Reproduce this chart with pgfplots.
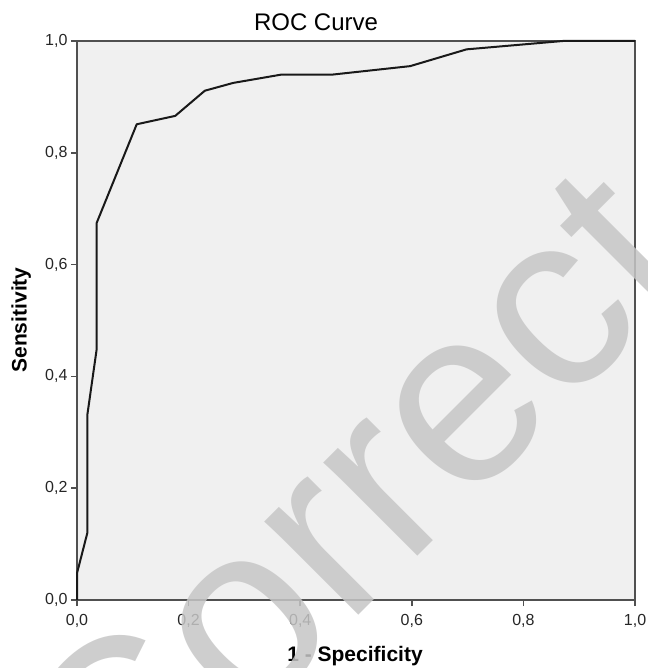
\documentclass[border=0pt]{standalone}
\usepackage{fontspec}
\setmainfont{Liberation Sans}
\usepackage{pgfplots}
\pgfplotsset{compat=1.18}
\definecolor{bg}{HTML}{F0F0F0}
\definecolor{frame}{HTML}{505050}
\definecolor{wm}{HTML}{C6C6C6}
\begin{document}
\begin{tikzpicture}[x=0.75pt,y=0.75pt]
\begin{axis}[
  scale only axis,
  width=418.5pt, height=419.25pt,
  xmin=0, xmax=1, ymin=0, ymax=1,
  xtick={0,0.2,...,1.0}, ytick={0,0.2,...,1.0},
  xtick pos=bottom, ytick pos=left,
  tick align=outside,
  major tick length=4.5pt,
  axis background/.style={fill=bg},
  axis line style={draw=frame, line width=1.4pt},
  major tick style={draw=frame, line width=1.3pt},
  /pgf/number format/.cd, use comma, fixed, fixed zerofill, precision=1,
    assume math mode=true,
  /pgfplots/.cd,
  tick label style={font=\fontsize{12}{14}\selectfont, text=black!85},
  xticklabel style={inner sep=0pt, anchor=north, yshift=-6pt},
  yticklabel style={inner sep=0pt, anchor=east, xshift=-2.5pt},
  clip=false,
]
% ROC curve
\addplot[black!90, line width=1.5pt, line join=round] coordinates {
  (0,0) (0,0.048) (0.0185,0.12) (0.0185,0.331) (0.035,0.447) (0.035,0.674)
  (0.107,0.851) (0.176,0.866) (0.229,0.911) (0.28,0.925) (0.367,0.940)
  (0.459,0.940) (0.597,0.955) (0.698,0.985) (0.871,1.0) (1,1)
};
\node[anchor=center, font=\fontsize{18}{20}\selectfont] at (rel axis cs:0.4283,1.034) {ROC Curve};
\node[anchor=base, font=\bfseries\fontsize{15.75}{18}\selectfont] at (rel axis cs:0.4982,-0.1104) {1 - Specificity};
\node[anchor=base, rotate=90, font=\bfseries\fontsize{15.75}{18}\selectfont] at (rel axis cs:-0.0901,0.5009) {Sensitivity};
\coordinate (bbsw) at (rel axis cs:-0.138,-0.1216);
\coordinate (bbne) at (rel axis cs:1.0215,1.0733);
\coordinate (wmpos) at (rel axis cs:0.0763,-0.4555);
\end{axis}
% watermark, clipped to the page
\begin{scope}
\clip (bbsw) rectangle (bbne);
\node[rotate=45, anchor=base west, inner sep=0pt, text=wm, text opacity=0.85]
  at (wmpos) {\fontsize{188}{200}\selectfont Correct};
\end{scope}
\pgfresetboundingbox
\useasboundingbox (bbsw) rectangle (bbne);
\end{tikzpicture}
\end{document}
